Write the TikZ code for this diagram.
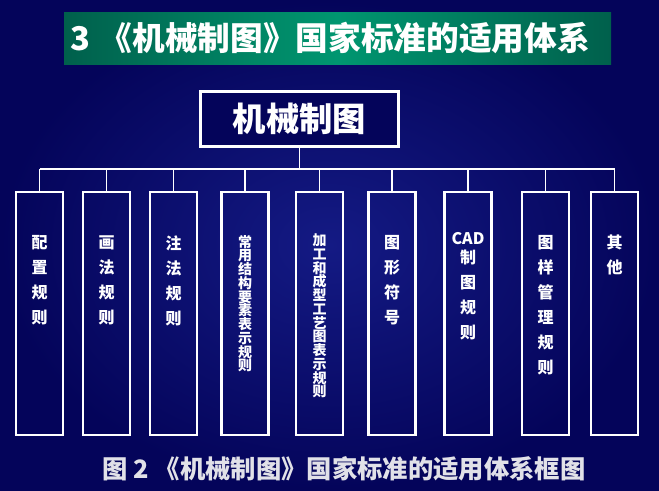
\documentclass[tikz,border=0pt]{standalone}
\usepackage{fontspec}
\newfontfamily\cjk{Noto Sans CJK SC}
\usetikzlibrary{positioning}
\definecolor{navyin}{RGB}{20,26,132}
\definecolor{navyout}{RGB}{4,4,90}
\definecolor{tealdark}{RGB}{0,96,76}
\definecolor{teallight}{RGB}{0,150,112}
\definecolor{capgray}{RGB}{225,225,232}
\begin{document}
\begin{tikzpicture}[x=0.75pt,y=0.75pt,yscale=-1,xscale=1,
  rootbox/.style={draw=white,line width=2.2pt,fill=navyout,minimum width=148pt,minimum height=41pt,inner sep=0pt},
  rulebox/.style={draw=white,line width=1.8pt,minimum width=35pt,minimum height=182pt,inner sep=0pt},
  ruletext/.style={anchor=north,inner sep=0pt,align=center,text=white,font=\cjk\bfseries\fontsize{12pt}{18.75pt}\selectfont},
  densetext/.style={ruletext,font=\cjk\bfseries\fontsize{10.5pt}{10.3pt}\selectfont},
  bus/.style={draw=white,line width=1.2pt}]
\useasboundingbox (0,0) rectangle (659,490);

% background and title bar
\shade [inner color=navyin,outer color=navyout] (0,0) rectangle (659,490);
\shade [left color=tealdark,right color=tealdark,middle color=teallight] (64,12) rectangle (611,64);
\node (title) [anchor=west,inner sep=0pt,text=white,font=\cjk\bfseries\fontsize{24.5pt}{26pt}\selectfont] at (70,38) {3\hspace{0.3em}《机械制图》国家标准的适用体系};

% root
\node (root) [rootbox,text=white,font=\cjk\bfseries\fontsize{25pt}{27pt}\selectfont] at (299.5,119) {机械制图};
\coordinate (bus) at (299.5,169);

% rule boxes
\node (c1) [rulebox] at (39.5,313.5) {};
\node (c2) [rulebox] at (106.5,313.5) {};
\node (c3) [rulebox] at (173.5,313.5) {};
\node (c4) [rulebox] at (245,313.5) {};
\node (c5) [rulebox] at (319.5,313.5) {};
\node (c6) [rulebox] at (392,313.5) {};
\node (c7) [rulebox] at (468,313.5) {};
\node (c8) [rulebox] at (545.5,313.5) {};
\node (c9) [rulebox] at (614.5,313.5) {};

% connectors
\draw [bus] (root.south) -- (bus);
\draw [bus] (c1.north |- bus) -- (c9.north |- bus);
\foreach \i in {1,...,9}
  \draw [bus] (c\i.north) -- (c\i.north |- bus);

% Text Node
\node (t1) [ruletext,below=33pt of c1.north] {配\\置\\规\\则};
\node (t2) [ruletext,below=33pt of c2.north] {画\\法\\规\\则};
\node (t3) [ruletext,below=33pt of c3.north] {注\\法\\规\\则};
\node (t4) [densetext,below=33pt of c4.north] {常\\用\\结\\构\\要\\素\\表\\示\\规\\则};
\node (t5) [densetext,below=32pt of c5.north] {加\\工\\和\\成\\型\\工\\艺\\图\\表\\示\\规\\则};
\node (t6) [ruletext,below=33pt of c6.north] {图\\形\\符\\号};
\node (t7) [ruletext,below=31pt of c7.north] {CAD\\[-5pt]制\\图\\规\\则};
\node (t8) [ruletext,below=33pt of c8.north] {图\\样\\管\\理\\规\\则};
\node (t9) [ruletext,below=33pt of c9.north] {其\\他};

% caption
\node (caption) [inner sep=0pt,text=capgray,font=\cjk\bfseries\fontsize{19pt}{21pt}\selectfont] at (344,469) {图 2 《机械制图》国家标准的适用体系框图};

\end{tikzpicture}
\end{document}
